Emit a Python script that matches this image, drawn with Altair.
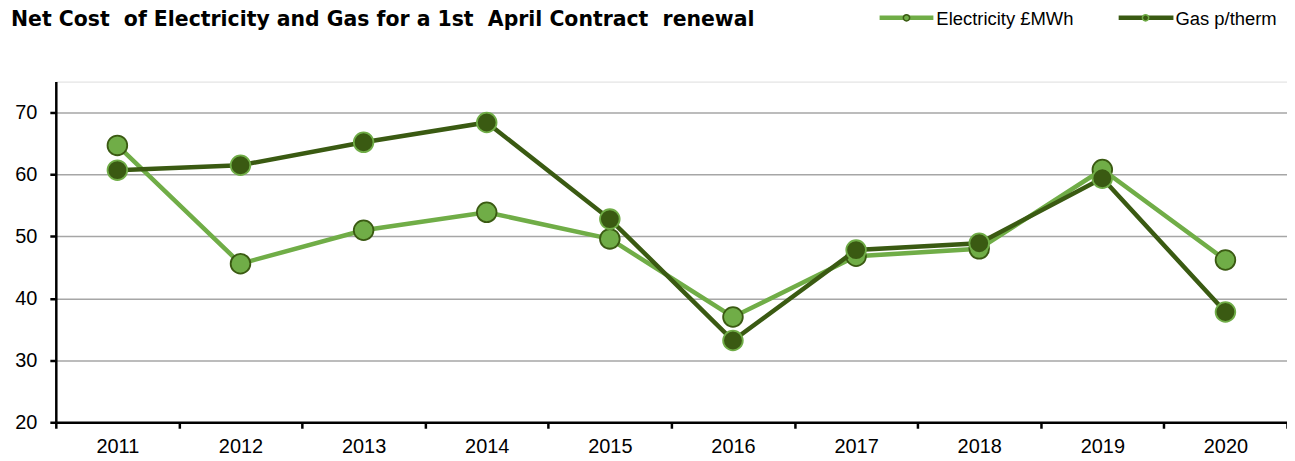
import altair as alt
import pandas as pd

years = ["2011", "2012", "2013", "2014", "2015", "2016", "2017", "2018", "2019", "2020"]
electricity = [64.7, 45.6, 51.0, 53.9, 49.6, 37.0, 46.8, 48.0, 60.8, 46.2]
gas = [60.7, 61.5, 65.2, 68.4, 52.8, 33.2, 47.8, 48.9, 59.4, 37.8]
series_names = ["Electricity £MWh", "Gas p/therm"]
y_ticks = [20, 30, 40, 50, 60, 70]
title_text = ["Net Cost\u00a0 of Electricity and Gas for a 1st\u00a0 April Contract\u00a0 renewal"]

LIGHT = "#70AD47"
DARK = "#3A5A12"
FONT = "Liberation Sans"

elec_df = pd.DataFrame({"year": years, "value": electricity})
gas_df = pd.DataFrame({"year": years, "value": gas})

x_enc = alt.X(
    "year:O",
    title=None,
    scale=alt.Scale(paddingInner=0, paddingOuter=0),
    axis=alt.Axis(
        labelAngle=0,
        labelFont=FONT,
        labelFontSize=20,
        labelColor="#000000",
        labelPadding=8,
        domainColor="#000000",
        domainWidth=2.5,
        tickColor="#000000",
        tickWidth=2.5,
        tickSize=6,
        tickBand="extent",
        grid=False,
    ),
)
y_enc = alt.Y(
    "value:Q",
    title=None,
    scale=alt.Scale(domain=[20, 75], nice=False, zero=False),
    axis=alt.Axis(
        values=y_ticks,
        labelFont=FONT,
        labelFontSize=20,
        labelColor="#000000",
        labelPadding=13,
        domainColor="#000000",
        domainWidth=2.5,
        tickColor="#000000",
        tickWidth=2.5,
        tickSize=6,
        grid=True,
        gridColor="#A6A6A6",
        gridWidth=1.5,
    ),
)

base_e = alt.Chart(elec_df).encode(x=x_enc, y=y_enc)
base_g = alt.Chart(gas_df).encode(x=x_enc, y=y_enc)

e_line = base_e.mark_line(color=LIGHT, strokeWidth=4.5)
e_pts = base_e.mark_circle(size=390, color=LIGHT, opacity=1, stroke=DARK, strokeWidth=1.8)
g_line = base_g.mark_line(color=DARK, strokeWidth=4.5)
g_pts = base_g.mark_circle(size=390, color=DARK, opacity=1, stroke=LIGHT, strokeWidth=1.8)

# legend (decoration, top right)
leg_e = pd.DataFrame({"name": [series_names[0]]})
leg_g = pd.DataFrame({"name": [series_names[1]]})
ly = -64
le_line = alt.Chart(leg_e).mark_rule(color=LIGHT, strokeWidth=4.5).encode(
    x=alt.value(827), x2=alt.value(881), y=alt.value(ly))
le_pt = alt.Chart(leg_e).mark_circle(size=40, color=LIGHT, opacity=1, stroke=DARK, strokeWidth=1.5).encode(
    x=alt.value(854), y=alt.value(ly))
le_txt = alt.Chart(leg_e).mark_text(align="left", baseline="middle", font=FONT, fontSize=18.5, color="#000000").encode(
    x=alt.value(884), y=alt.value(ly + 1), text="name:N")
lg_line = alt.Chart(leg_g).mark_rule(color=DARK, strokeWidth=4.5).encode(
    x=alt.value(1067), x2=alt.value(1122), y=alt.value(ly))
lg_pt = alt.Chart(leg_g).mark_circle(size=40, color=DARK, opacity=1, stroke=LIGHT, strokeWidth=1.5).encode(
    x=alt.value(1094), y=alt.value(ly))
lg_txt = alt.Chart(leg_g).mark_text(align="left", baseline="middle", font=FONT, fontSize=18.5, color="#000000").encode(
    x=alt.value(1124), y=alt.value(ly + 1), text="name:N")

title_df = pd.DataFrame({"t": title_text})
title_mark = alt.Chart(title_df).mark_text(
    align="left", baseline="alphabetic", font="DejaVu Sans", fontSize=20.5, fontWeight="bold", color="#000000"
).encode(x=alt.value(-45), y=alt.value(-56), text="t:N")

chart = alt.layer(
    e_line, e_pts, g_line, g_pts, le_line, le_pt, le_txt, lg_line, lg_pt, lg_txt, title_mark
).properties(
    width=1236,
    height=342,
    autosize=alt.AutoSizeParams(type="none"),
    padding={"left": 48, "top": 73, "right": 0, "bottom": 38},
).configure_view(stroke=None).configure(background="#FFFFFF")

chart.save("out.html", embed_options={"renderer": "svg", "actions": False})
